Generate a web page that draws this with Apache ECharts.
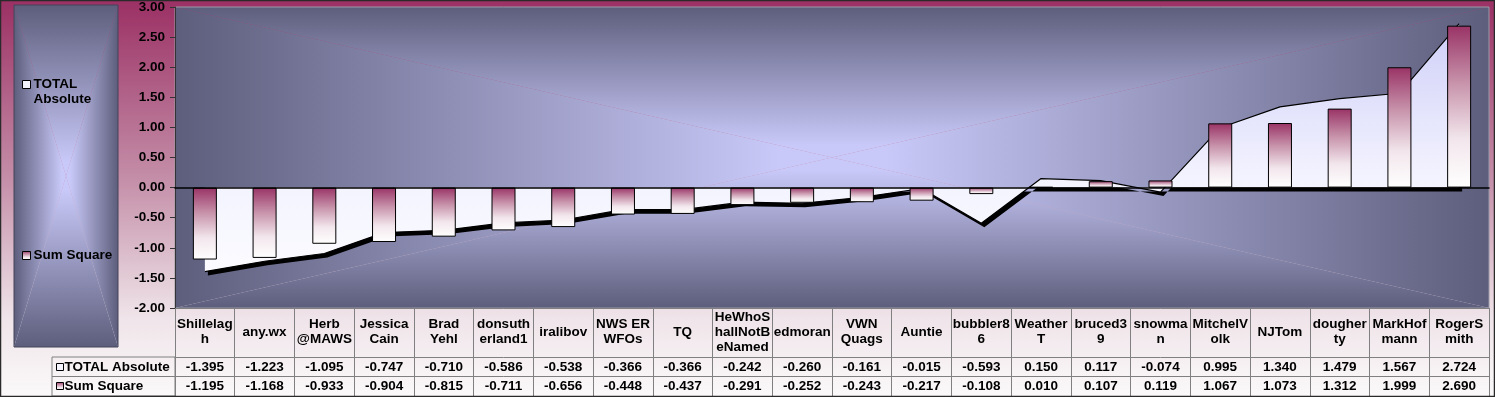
<!DOCTYPE html>
<html>
<head>
<meta charset="utf-8">
<script src="https://cdn.jsdelivr.net/npm/echarts@6/dist/echarts.min.js"></script>
<style>
html, body { margin: 0; padding: 0; background: #fff; }
#main { width: 1495px; height: 397px; }
</style>
</head>
<body>
<div id="main"></div>
<script>
// data
var categories = ['Shillelagh', 'any.wx', 'Herb @MAWS', 'Jessica Cain', 'Brad Yehl', 'donsutherland1', 'iralibov',
  'NWS ER WFOs', 'TQ', 'HeWhoShallNotBeNamed', 'edmoran', 'VWN Quags', 'Auntie', 'bubbler86', 'WeatherT',
  'bruced39', 'snowman', 'MitchelVolk', 'NJTom', 'dougherty', 'MarkHofmann', 'RogerSmith'];
var tickLabels = ['Shillelag\nh', 'any.wx', 'Herb\n@MAWS', 'Jessica\nCain', 'Brad\nYehl', 'donsuth\nerland1', 'iralibov',
  'NWS ER\nWFOs', 'TQ', 'HeWhoS\nhallNotB\neNamed', 'edmoran', 'VWN\nQuags', 'Auntie', 'bubbler8\n6', 'Weather\nT',
  'bruced3\n9', 'snowma\nn', 'MitchelV\nolk', 'NJTom', 'dougher\nty', 'MarkHof\nmann', 'RogerS\nmith'];
var totalAbsolute = [-1.395, -1.223, -1.095, -0.747, -0.710, -0.586, -0.538, -0.366, -0.366, -0.242, -0.260,
  -0.161, -0.015, -0.593, 0.150, 0.117, -0.074, 0.995, 1.340, 1.479, 1.567, 2.724];
var sumSquare = [-1.195, -1.168, -0.933, -0.904, -0.815, -0.711, -0.656, -0.448, -0.437, -0.291, -0.252,
  -0.243, -0.217, -0.108, 0.010, 0.107, 0.119, 1.067, 1.073, 1.312, 1.999, 2.690];
var yMin = -2, yMax = 3, yStep = 0.5;

var FONT = 'Liberation Sans, Arial, sans-serif';
var DARK = '#5d5e7c', LIGHT = '#c9c9f9';

// plot and legend boxes
var gridL = 175, gridT = 7, gridR = 1489, gridB = 308;
var legL = 14, legT = 5, legR = 118, legB = 347;

function lin(x, y, x2, y2, stops) {
  return new echarts.graphic.LinearGradient(x, y, x2, y2, stops);
}

// excel-like "from center" fill: four triangles each with its own linear gradient
function centerFill(x0, y0, x1, y1, z) {
  var cx = (x0 + x1) / 2, cy = (y0 + y1) / 2;
  var st = [{ offset: 0, color: DARK }, { offset: 0.92, color: LIGHT }, { offset: 1, color: LIGHT }];
  var tris = [
    [[x0, y0], [x1, y0], [cx, cy], lin(0, 0, 0, 1, st)],
    [[x0, y1], [x1, y1], [cx, cy], lin(0, 1, 0, 0, st)],
    [[x0, y0], [x0, y1], [cx, cy], lin(0, 0, 1, 0, st)],
    [[x1, y0], [x1, y1], [cx, cy], lin(1, 0, 0, 0, st)]
  ];
  return tris.map(function (t) {
    return { type: 'polygon', silent: true, z: z, shape: { points: [t[0], t[1], t[2]] }, style: { fill: t[3] } };
  });
}

var graphics = [
  { type: 'rect', silent: true, z: -20, shape: { x: 0, y: 0, width: 1495, height: 397 },
    style: { fill: lin(0, 0, 0, 1, [{ offset: 0, color: '#9b3064' }, { offset: 0.45, color: '#c48ea8' }, { offset: 0.8, color: '#efe4e9' }, { offset: 1, color: '#fbf9fa' }]) } }
].concat(centerFill(gridL, gridT, gridR, gridB, -10))
 .concat(centerFill(legL, legT, legR, legB, -10))
 .concat([
  { type: 'rect', silent: true, z: -9, shape: { x: legL, y: legT, width: legR - legL, height: legB - legT },
    style: { fill: 'none', stroke: '#44445a', lineWidth: 1 } },
  { type: 'rect', silent: true, z: -9, shape: { x: gridL, y: gridT, width: gridR - gridL, height: gridB - gridT },
    style: { fill: 'none', stroke: '#9a9aa8', lineWidth: 1 } },
  // data-table key cells
  { type: 'rect', silent: true, z: 5, shape: { x: 52, y: 357, width: gridL - 52, height: 39 },
    style: { fill: 'none', stroke: '#808080', lineWidth: 1 } },
  { type: 'line', silent: true, z: 5, shape: { x1: 52, y1: 376.5, x2: gridL, y2: 376.5 },
    style: { stroke: '#808080', lineWidth: 1 } },
  { type: 'rect', silent: true, z: 20, shape: { x: 0.5, y: 0.5, width: 1494, height: 396 },
    style: { fill: 'none', stroke: '#2a2a2a', lineWidth: 1.5 } }
]);

var labelStyle = { color: '#000', fontFamily: FONT, fontWeight: 'bold', fontSize: 13.5 };

function tableAxis(offset, values) {
  return {
    type: 'category', position: 'bottom', offset: offset, data: categories,
    axisLine: { onZero: false, lineStyle: { color: '#808080', width: 1 } },
    axisTick: { show: false },
    axisLabel: Object.assign({ show: !!values, interval: 0, margin: 10, verticalAlign: 'middle',
      formatter: function (v, i) { return values ? values[i].toFixed(3) : ''; } }, labelStyle)
  };
}

var chart = echarts.init(document.getElementById('main'));
var option = {
  animation: false,
  graphic: graphics,
  grid: { left: gridL, top: gridT, right: 1495 - gridR, bottom: 397 - gridB, containLabel: false, outerBoundsMode: 'none' },
  legend: [
    {
      orient: 'vertical', left: 22, top: 62, padding: 0, itemGap: 141, itemWidth: 8, itemHeight: 8, icon: 'rect',
      selectedMode: false,
      formatter: function (n) { return n === 'TOTAL Absolute' ? '\nTOTAL\nAbsolute' : n; },
      textStyle: Object.assign({ lineHeight: 15, padding: [0, 0, 0, -2] }, labelStyle),
      data: [
        { name: 'TOTAL Absolute', itemStyle: { color: '#f4f4ff', borderColor: '#000', borderWidth: 1 } },
        { name: 'Sum Square', itemStyle: { borderColor: '#000', borderWidth: 1 } }
      ]
    },
    {
      orient: 'vertical', left: 56, top: 360, padding: 0, itemGap: 5, itemWidth: 7, itemHeight: 7, icon: 'rect',
      selectedMode: false,
      textStyle: Object.assign({ lineHeight: 14, padding: [0, 0, 0, -4] }, labelStyle),
      data: [
        { name: 'TOTAL Absolute', itemStyle: { color: '#f4f4ff', borderColor: '#000', borderWidth: 1 } },
        { name: 'Sum Square', itemStyle: { borderColor: '#000', borderWidth: 1 } }
      ]
    }
  ],
  xAxis: [
    {
      type: 'category', data: categories, z: 4,
      axisLine: { onZero: true, lineStyle: { color: '#000', width: 1.5 } },
      axisTick: { show: false }, axisLabel: { show: false }
    },
    {
      type: 'category', position: 'bottom', data: categories,
      axisLine: { onZero: false, lineStyle: { color: '#808080', width: 1 } },
      axisTick: { show: true, interval: 0, length: 88, lineStyle: { color: '#808080' } },
      axisLabel: Object.assign({ interval: 0, margin: 24, verticalAlign: 'middle', lineHeight: 15,
        formatter: function (v, i) { return tickLabels[i]; } }, labelStyle)
    },
    tableAxis(49, totalAbsolute),
    tableAxis(68, sumSquare),
    tableAxis(88, null)
  ],
  yAxis: {
    type: 'value', min: yMin, max: yMax, interval: yStep,
    axisLine: { show: true, lineStyle: { color: '#333', width: 1 } },
    axisTick: { show: true, length: 5, lineStyle: { color: '#333' } },
    splitLine: { show: false },
    axisLabel: Object.assign({ margin: 10, formatter: function (v) { return v.toFixed(2); } }, labelStyle)
  },
  series: [
    {
      name: 'TOTAL Absolute', type: 'line', data: totalAbsolute, xAxisIndex: 0, z: 2,
      symbol: 'none',
      itemStyle: { color: '#f4f4ff' },
      lineStyle: { color: '#000', width: 1.2 },
      areaStyle: {
        color: lin(0, 0, 0, 1, [{ offset: 0, color: '#cfcff8' }, { offset: 0.62, color: '#f3f3ff' }, { offset: 1, color: '#fbfbff' }]),
        opacity: 1,
        shadowColor: '#000', shadowBlur: 0, shadowOffsetX: 3, shadowOffsetY: 4
      }
    },
    {
      name: 'Sum Square', type: 'bar', data: sumSquare, xAxisIndex: 0, z: 3,
      barWidth: 24,
      itemStyle: {
        color: lin(0, 0, 0, 1, [{ offset: 0, color: '#993366' }, { offset: 0.35, color: '#c792aa' }, { offset: 0.7, color: '#f2e6ec' }, { offset: 1, color: '#ffffff' }]),
        borderColor: '#000', borderWidth: 1
      }
    }
  ]
};
chart.setOption(option);
</script>
</body>
</html>
